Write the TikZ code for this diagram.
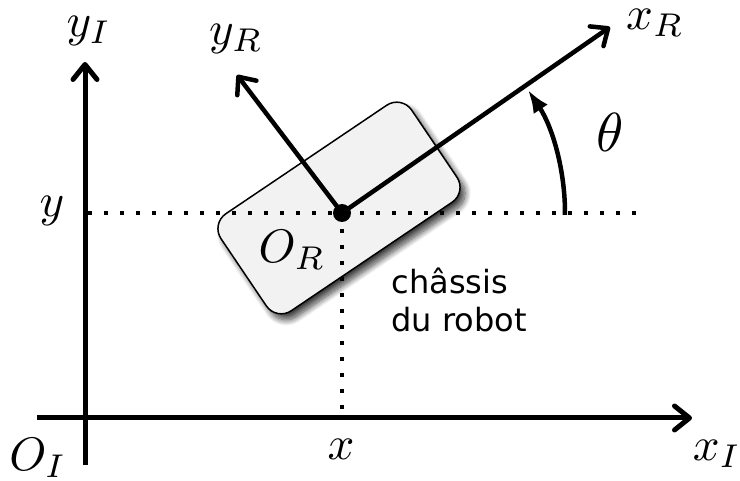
\documentclass[tikz,border=0pt]{standalone}
\usepackage{fontspec}
\newfontfamily\dejavu{DejaVu Sans}
\usetikzlibrary{arrows.meta,shadows.blur}
\begin{document}
\begin{tikzpicture}[x=1pt,y=1pt,
  axis/.style={line width=5pt, -{Straight Barb[length=15pt,width=24pt,round]}},
  frame/.style={line width=4.5pt, -{Straight Barb[length=14pt,width=24pt,round]}},
  dotline/.style={line width=4pt, dash pattern=on 4pt off 12pt},
  lab/.style={inner sep=0pt, scale=4.7},
  chassis/.style={draw, line width=1.5pt, fill=black!5, rounded corners=18pt,
    minimum width=230pt, minimum height=117pt, rotate=34,
    blur shadow={shadow xshift=5pt, shadow yshift=-6pt, shadow blur radius=6pt, shadow blur steps=12, shadow opacity=75}},
  dot/.style={circle, fill=black, inner sep=0pt, minimum size=18pt},
]
\useasboundingbox (0,0) rectangle (740,480);
% coordinates
\coordinate (xs) at (37,62);
\coordinate (xe) at (692,62);
\coordinate (ys) at (85,15);
\coordinate (ye) at (85,418);
\coordinate (OR) at (342,267);
\coordinate (yl) at (88,267);
\coordinate (yr) at (640,267);
\coordinate (xb) at (342,70);
\coordinate (xRt) at (610,453);
\coordinate (yRt) at (237,405);
% chassis
\node[chassis] (box) at (339,272) {};
% dotted lines
\draw[dotline] (yl) -- (yr);
\draw[dotline] (OR) -- (xb);
% inertial axes
\draw[axis] (xs) -- (xe);
\draw[axis] (ys) -- (ye);
% robot frame
\draw[frame] (OR) -- (xRt);
\draw[frame] (OR) -- (yRt);
\node[dot] (ORdot) at (OR) {};
% theta arc
\draw[line width=4.5pt, -{Latex[length=23pt,width=17pt]}]
  ([shift={(-0.5:223)}]OR) arc[start angle=-0.5, end angle=33.5, radius=223];
% labels
\node[lab] (lyI) at (89,449) {$y_I$};
\node[lab] (lyR) at (236,441) {$y_R$};
\node[lab] (lxR) at (655,457) {$x_R$};
\node[lab] (ly) at (52,269) {$y$};
\node[lab] (lx) at (341,31) {$x$};
\node[lab] (lOI) at (38,22) {$O_I$};
\node[lab] (lxI) at (717,26) {$x_I$};
\node[lab] (lOR) at (292,230) {$O_R$};
\node[inner sep=0pt, scale=5.5] (lth) at (610,348) {$\theta$};
\node[font=\dejavu, scale=3.2, align=left, anchor=base west, inner sep=0pt] (txt) at (391,148) {châssis\\du robot};
\end{tikzpicture}
\end{document}
